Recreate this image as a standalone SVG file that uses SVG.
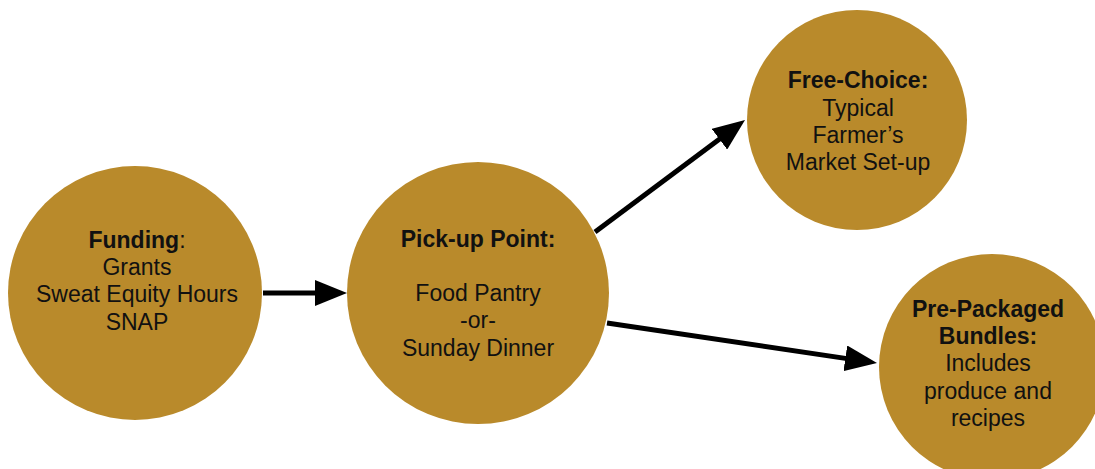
<svg xmlns="http://www.w3.org/2000/svg" width="1095" height="469" viewBox="0 0 1095 469">
<style>
.node{fill:#B98A2B;}
.t{font-family:"Liberation Sans",Arial,sans-serif;font-size:23px;fill:#111;text-anchor:middle;}
.b{font-weight:bold;}
.edge{stroke:#000;stroke-width:5;fill:none;}
</style>
<defs>
<marker id="ah" viewBox="0 0 32 26" refX="12" refY="13" markerWidth="32" markerHeight="26" markerUnits="userSpaceOnUse" orient="auto">
<path d="M0,0 L32,13 L0,26 z" fill="#000"/>
</marker>
</defs>
<rect width="1095" height="469" fill="#fff"/>
<g id="connectors">
<line class="edge" x1="263" y1="293" x2="327" y2="293" marker-end="url(#ah)"/>
<line class="edge" x1="595" y1="232" x2="729" y2="132" marker-end="url(#ah)"/>
<line class="edge" x1="607" y1="323" x2="857.2" y2="360.1" marker-end="url(#ah)"/>
</g>
<g id="funding">
<circle class="node" cx="135" cy="293" r="127"/>
<text class="t" x="137" y="248"><tspan class="b">Funding</tspan>:</text>
<text class="t" x="137" y="275">Grants</text>
<text class="t" x="137" y="302">Sweat Equity Hours</text>
<text class="t" x="137" y="330">SNAP</text>
</g>
<g id="pickup">
<circle class="node" cx="478" cy="293" r="131"/>
<text class="t b" x="478" y="247">Pick-up Point:</text>
<text class="t" x="478" y="301">Food Pantry</text>
<text class="t" x="478" y="328">-or-</text>
<text class="t" x="478" y="356">Sunday Dinner</text>
</g>
<g id="freechoice">
<circle class="node" cx="857" cy="120" r="110"/>
<text class="t b" x="858" y="88">Free-Choice:</text>
<text class="t" x="858" y="116">Typical</text>
<text class="t" x="858" y="143">Farmer’s</text>
<text class="t" x="858" y="170">Market Set-up</text>
</g>
<g id="prepackaged">
<circle class="node" cx="992" cy="367" r="113"/>
<text class="t b" x="988" y="317">Pre-Packaged</text>
<text class="t b" x="988" y="344">Bundles:</text>
<text class="t" x="988" y="371">Includes</text>
<text class="t" x="988" y="399">produce and</text>
<text class="t" x="988" y="426">recipes</text>
</g>
</svg>
